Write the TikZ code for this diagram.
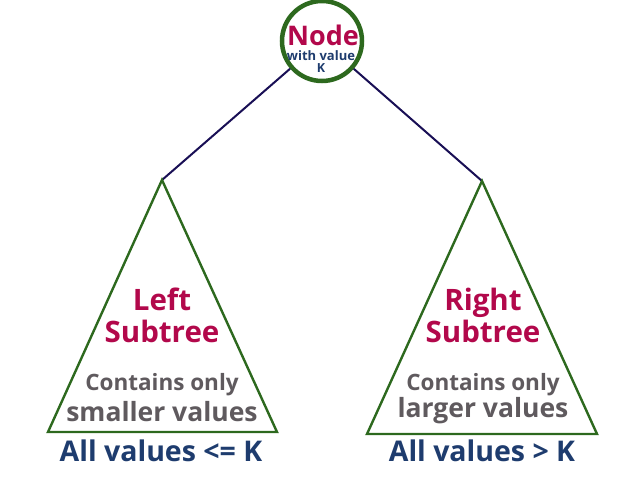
\documentclass[tikz,border=0pt]{standalone}
\usepackage{fontspec}
\setmainfont{Open Sans}
\begin{document}
\begin{tikzpicture}[x=1pt,y=-1pt,
  edge/.style={draw=edgecol,line width=2pt},
  tri/.style={draw=treegreen,line width=2.4pt,line join=miter},
  ttl/.style={text=titlecol,font=\bfseries\fontsize{29.5}{34}\selectfont,align=center},
  desc/.style={text=desccol,font=\bfseries,align=center,inner sep=0pt},
  rng/.style={text=rangecol,font=\bfseries\fontsize{28.5}{28}\selectfont,inner sep=0pt}]
\definecolor{edgecol}{RGB}{25,15,85}
\definecolor{treegreen}{RGB}{45,105,30}
\definecolor{titlecol}{RGB}{178,8,75}
\definecolor{desccol}{RGB}{95,90,94}
\definecolor{rangecol}{RGB}{30,60,110}
\useasboundingbox (0,0) rectangle (630,479);
\coordinate (lapex) at (162,180);
\coordinate (rapex) at (482,181);
\node[circle,draw=treegreen,line width=4.5pt,minimum size=80pt,inner sep=0pt] (root) at (322,41) {};
\node[text=titlecol,font=\bfseries\fontsize{27}{27}\selectfont,inner sep=0pt] (rootlbl) at (323,35) {Node};
\node[text=rangecol,font=\bfseries\fontsize{13}{13}\selectfont,inner sep=0pt] (rootsub) at (321,56) {with value};
\node[text=rangecol,font=\bfseries\fontsize{12.5}{12.5}\selectfont,inner sep=0pt] (rootk) at (321,68) {K};
\draw[edge] (root) -- (lapex);
\draw[edge] (root) -- (rapex);
\draw[tri] (lapex) -- (48,432) -- (277,432) -- cycle;
\draw[tri] (rapex) -- (367,434) -- (597,434) -- cycle;
\node[ttl] (ltitle) at (162,315) {Left\\[-2pt]Subtree};
\node[ttl] (rtitle) at (483,315) {Right\\[-2pt]Subtree};
\node[desc,font=\bfseries\fontsize{22.5}{22}\selectfont] (lc1) at (162,385) {Contains only};
\node[desc,font=\bfseries\fontsize{26.5}{26}\selectfont] (lc2) at (162,412) {smaller values};
\node[desc,font=\bfseries\fontsize{22.5}{22}\selectfont] (rc1) at (483,385) {Contains only};
\node[desc,font=\bfseries\fontsize{26.5}{26}\selectfont] (rc2) at (483,411) {larger values};
\node[rng] (lrange) at (161,451) {All values <= K};
\node[rng] (rrange) at (482,451) {All values > K};
\end{tikzpicture}
\end{document}
